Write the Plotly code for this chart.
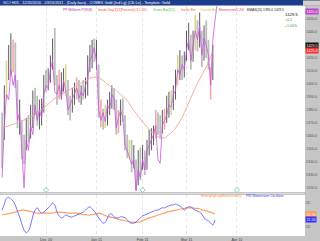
import plotly.graph_objects as go

# ---------------- data ----------------
month_idx = [20, 43, 64, 84, 107]
month_labels = ["Dec 10", "Jan 11", "Feb 11", "Mar 11", "Apr 11"]

bar_high = [1378, 1399, 1418, 1430, 1439, 1434, 1432, 1403, 1388, 1372,
            1361, 1374, 1376, 1384, 1395, 1397, 1391, 1388, 1389, 1407,
            1411, 1412, 1422, 1435, 1443, 1407, 1411, 1409, 1412, 1415,
            1403, 1391, 1397, 1401, 1405, 1403, 1399, 1403, 1405, 1422,
            1430, 1434, 1435, 1434, 1415, 1388, 1381, 1384, 1388, 1394,
            1399, 1397, 1388, 1380, 1388, 1389, 1376, 1361, 1357, 1357,
            1353, 1342, 1349, 1351, 1353, 1349, 1357, 1365, 1366, 1368,
            1380, 1378, 1376, 1380, 1381, 1391, 1394, 1395, 1399, 1411,
            1422, 1426, 1422, 1425, 1441, 1447, 1438, 1441, 1453, 1449,
            1455, 1441, 1445, 1449, 1434, 1413, 1430]
bar_low = [1335, 1357, 1388, 1403, 1407, 1409, 1397, 1366, 1361, 1342,
           1338, 1349, 1355, 1358, 1366, 1376, 1368, 1365, 1368, 1378,
           1394, 1395, 1401, 1411, 1399, 1384, 1388, 1388, 1394, 1391,
           1376, 1372, 1378, 1384, 1388, 1386, 1384, 1388, 1389, 1391,
           1409, 1412, 1417, 1411, 1374, 1367, 1365, 1366, 1368, 1376,
           1381, 1380, 1361, 1362, 1368, 1371, 1349, 1343, 1342, 1332,
           1335, 1318, 1322, 1326, 1334, 1330, 1334, 1345, 1349, 1353,
           1358, 1361, 1358, 1362, 1365, 1370, 1374, 1376, 1380, 1388,
           1399, 1403, 1403, 1405, 1418, 1426, 1411, 1417, 1426, 1425,
           1428, 1413, 1418, 1420, 1411, 1388, 1403]
bar_signal = ["D", "U", "O", "U", "U", "I", "D", "D", "U", "D",
              "D", "U", "D", "U", "U", "D", "D", "U", "U", "U",
              "D", "U", "U", "U", "D", "D", "I", "U", "U", "O",
              "D", "D", "U", "U", "I", "D", "U", "D", "U", "U",
              "U", "U", "D", "U", "D", "I", "D", "O", "U", "U",
              "U", "D", "D", "I", "U", "D", "D", "D", "O", "D",
              "U", "D", "U", "D", "U", "D", "U", "U", "U", "U",
              "I", "D", "D", "U", "I", "U", "U", "O", "U", "U",
              "O", "U", "D", "U", "U", "U", "D", "U", "O", "D",
              "U", "D", "U", "D", "D", "I", "U"]
pp_line = [1328, 1368, 1392, 1388, 1411, 1399, 1407, 1372, 1378, 1349,
           1320, 1357, 1349, 1368, 1361, 1384, 1372, 1380, 1374, 1392,
           1399, 1397, 1411, 1418, 1394, 1392, 1399, 1389, 1403, 1395,
           1380, 1384, 1388, 1392, 1397, 1389, 1394, 1391, 1399, 1403,
           1418, 1422, 1428, 1417, 1380, 1372, 1378, 1371, 1384, 1380,
           1392, 1388, 1366, 1374, 1380, 1374, 1353, 1349, 1343, 1338,
           1342, 1318, 1334, 1328, 1342, 1334, 1349, 1353, 1357, 1361,
           1368, 1342, 1339, 1368, 1372, 1376, 1384, 1382, 1392, 1395,
           1411, 1407, 1415, 1411, 1426, 1434, 1418, 1430, 1441, 1434,
           1445, 1422, 1435, 1430, 1422, 1399, 1434, 1449, 1462]
ema20 = [1366, 1366.5, 1367, 1367.5, 1368, 1369, 1369.5, 1370.5, 1371, 1372,
         1372.5, 1373, 1373.5, 1374.5, 1376, 1377, 1378, 1379, 1380, 1381.5,
         1383, 1384.5, 1386, 1388, 1389, 1390, 1391, 1392, 1393, 1394,
         1395, 1396, 1397, 1398, 1399, 1400, 1401, 1402, 1403, 1404,
         1404.5, 1405, 1405.5, 1405.5, 1405, 1404, 1403, 1401.5, 1400, 1398.5,
         1397, 1396, 1395, 1393.5, 1392.5, 1391, 1389, 1387, 1385, 1382,
         1380, 1377.5, 1375, 1373, 1371, 1369, 1367, 1365, 1363, 1362,
         1360.5, 1359.5, 1358.5, 1358.5, 1358.5, 1359.5, 1361, 1362, 1364, 1366,
         1368.5, 1371, 1374, 1378, 1382, 1386, 1390, 1394, 1397, 1400.5,
         1404, 1407, 1410, 1413, 1417, 1421, 1425]
osc_blue = [23.5, 24.8, 26.0, 26.2, 25.8, 25.4, 24.6, 23.3, 22.1, 20.6,
            19.4, 18.8, 19.2, 20.4, 22.3, 23.5, 24.0, 23.3, 22.9, 23.1,
            23.5, 24.0, 24.4, 25.0, 24.6, 23.1, 22.3, 21.9, 22.1, 22.5,
            22.3, 22.1, 22.1, 22.3, 22.5, 22.7, 22.9, 23.1, 23.5, 24.0,
            24.2, 23.8, 23.3, 22.7, 21.9, 21.3, 20.8, 21.0, 21.9, 22.7,
            22.7, 22.1, 21.9, 21.9, 22.1, 22.1, 21.9, 21.5, 21.0, 20.8,
            20.8, 21.0, 21.5, 21.9, 22.3, 22.5, 22.7, 22.9, 23.1, 23.3,
            23.5, 23.5, 23.8, 24.0, 24.0, 24.2, 24.4, 24.6, 24.6, 24.8,
            24.6, 24.4, 24.0, 23.5, 24.0, 24.2, 24.2, 23.8, 23.5, 23.3,
            23.1, 22.7, 21.9, 21.5, 21.3, 20.8, 20.4, 21.5]
osc_orange = [22.5, 22.6, 22.7, 22.8, 22.9, 23.0, 23.1, 23.3, 23.4, 23.5,
              23.5, 23.4, 23.3, 23.2, 23.1, 23.0, 22.9, 22.9, 22.9, 22.9,
              22.9, 22.9, 22.9, 22.9, 23.0, 23.1, 23.1, 23.1, 23.0, 23.0,
              22.9, 22.9, 22.9, 22.9, 22.9, 22.8, 22.7, 22.6, 22.6, 22.5,
              22.5, 22.6, 22.7, 22.8, 22.9, 22.8, 22.6, 22.4, 22.2, 22.1,
              22.0, 21.9, 21.8, 21.6, 21.5, 21.4, 21.3, 21.2, 21.1, 21.0,
              21.0, 21.0, 21.0, 21.1, 21.3, 21.5, 21.7, 21.9, 22.0, 22.2,
              22.3, 22.5, 22.6, 22.8, 22.9, 23.1, 23.2, 23.3, 23.4, 23.5,
              23.6, 23.7, 23.8, 23.9, 24.0, 24.0, 24.0, 24.0, 23.9, 23.9,
              23.8, 23.6, 23.5, 23.4, 23.2, 23.1, 22.9, 22.7]
marker_idx = [20, 64, 107]
marker_price = 1318.5
price_ticks = [1320, 1330, 1340, 1350, 1360, 1370, 1380, 1390, 1400,
               1410, 1420, 1430, 1440, 1450]
osc_ticks = [20, 25]
last_close = 1429.5
last_ema = 1425.4
last_pp = 1455.4

# ---------------- figure ----------------
W, H = 320, 241
ML, MR, MT, MB = 0, 15, 6, 5
PW, PH = W - ML - MR, H - MT - MB
FONT = "Liberation Sans"


def px_x(p):
    return p / PW


def px_y(p):
    return (H - MB - p) / PH


fig = go.Figure()

sig_style = {"D": ("#bdbdbd", 1.8), "U": ("#5a5a5a", 1.0),
             "I": ("#f5a8a8", 1.6), "O": ("#d8d894", 1.6)}
for sig, (col, wid) in sig_style.items():
    xs, ys = [], []
    for i, (h, l, s) in enumerate(zip(bar_high, bar_low, bar_signal)):
        if s == sig:
            xs += [i, i, None]
            ys += [l, h, None]
    fig.add_trace(go.Scatter(x=xs, y=ys, mode="lines",
                             line=dict(color=col, width=wid),
                             hoverinfo="skip", xaxis="x", yaxis="y"))

fig.add_trace(go.Scatter(x=list(range(len(ema20))), y=ema20, mode="lines",
                         line=dict(color="#f4b0a0", width=1),
                         xaxis="x", yaxis="y"))
fig.add_trace(go.Scatter(x=list(range(len(pp_line))), y=pp_line, mode="lines",
                         line=dict(color="#cc55dd", width=0.8),
                         xaxis="x", yaxis="y"))
fig.add_trace(go.Scatter(x=marker_idx, y=[marker_price] * len(marker_idx),
                         mode="markers",
                         marker=dict(symbol="diamond-open", size=4,
                                     color="#86cccc", line=dict(width=1)),
                         xaxis="x", yaxis="y", cliponaxis=False))

fig.add_trace(go.Scatter(x=list(range(len(osc_orange))), y=osc_orange,
                         mode="lines", line=dict(color="#ffa060", width=1.2,
                                                 shape="spline"),
                         xaxis="x2", yaxis="y2"))
fig.add_trace(go.Scatter(x=list(range(len(osc_blue))), y=osc_blue,
                         mode="lines", line=dict(color="#6464ff", width=0.9,
                                                 shape="spline"),
                         xaxis="x2", yaxis="y2"))

x_left = -0.96
x_right = x_left + PW / 2.195

split_main = (H - MB - 192) / PH
split_low = (H - MB - 195) / PH

axis_common = dict(range=[x_left, x_right], tickmode="array",
                   tickvals=month_idx, showgrid=True, gridcolor="#e6e6e6",
                   griddash="dot", gridwidth=0.8, zeroline=False,
                   showline=False, ticks="", fixedrange=True)

fig.update_layout(
    width=W, height=H,
    margin=dict(l=ML, r=MR, t=MT, b=MB, pad=0),
    paper_bgcolor="white", plot_bgcolor="white",
    showlegend=False,
    font=dict(family=FONT, size=3.6, color="#333333"),
    xaxis=dict(**axis_common, showticklabels=False, anchor="y"),
    xaxis2=dict(**axis_common, ticktext=month_labels, showticklabels=True,
                anchor="y2", matches="x",
                tickfont=dict(size=3.8, color="#444444")),
    yaxis=dict(domain=[split_main, 1], range=[1316.9, 1460], side="right",
               tickmode="array", tickvals=price_ticks, tickformat=".1f",
               showgrid=False, zeroline=False, ticks="",
               tickfont=dict(size=3.6, color="#555555"), anchor="x"),
    yaxis2=dict(domain=[0, split_low], range=[18.125, 26.67], side="right",
                tickmode="array", tickvals=osc_ticks, showgrid=False,
                zeroline=False, ticks="",
                tickfont=dict(size=3.6, color="#555555"), anchor="x2"),
)

shapes = [
    dict(type="rect", xref="paper", yref="paper", x0=1, x1=W / PW,
         y0=px_y(H), y1=px_y(6), fillcolor="#c6c6c6", line_width=0,
         layer="below"),
    dict(type="rect", xref="paper", yref="paper", x0=0, x1=W / PW,
         y0=px_y(H), y1=px_y(236), fillcolor="#c6c6c6", line_width=0,
         layer="below"),
    dict(type="rect", xref="paper", yref="paper", x0=0, x1=1,
         y0=px_y(194.5), y1=px_y(192.5), fillcolor="#dcdcdc",
         line=dict(color="#ababab", width=0.6), layer="above"),
    dict(type="rect", xref="paper", yref="paper", x0=0, x1=W / PW,
         y0=px_y(5.5), y1=px_y(0), fillcolor="#1c3c8c", line_width=0,
         layer="above"),
    dict(type="rect", xref="paper", yref="paper", x0=px_x(303), x1=W / PW,
         y0=px_y(5.5), y1=px_y(0.5), fillcolor="#d4d0c8", line_width=0,
         layer="above"),
]
fig.update_layout(shapes=shapes)

ann = []


def txt(x, y, s, color, size=3.6, anchor="left", bg=None):
    ann.append(dict(x=px_x(x), y=px_y(y), xref="paper", yref="paper",
                    text=s, showarrow=False, xanchor=anchor,
                    yanchor="middle",
                    font=dict(family=FONT, size=size, color=color),
                    bgcolor=bg, borderpad=0))


txt(2, 2.8, "GC# H05 - 12/20/2010 - 03/16/2011 - (Daily bars) - COMEX Gold "
    "(Ind Lg) (Clk Ln) - Template: Gold", "#ffffff", 3.8)

legend_items = [
    (62, "PP Milliform P(W,M)", "#c030c0"),
    (97, "Inside Day(1)(1)", "#ff4a4a"),
    (120, "Percent(0.3,1.00)", "#ff4a4a"),
    (152, "Green Bar(3,1)", "#40c040"),
    (180, "Inside Bar", "#ff6a4a"),
    (199, "Outside Bar", "#c8c850"),
    (218, "Momentum(5,20)", "#e04070"),
    (246, "EMAS(20) 1390.0 1429.5", "#222222"),
]
for x, s, c in legend_items:
    txt(x, 9.5, s, c, 3.3)

txt(284, 14.5, f"{last_close:.1f}", "#111111", 4.2)
txt(284, 20.5, "+0.2", "#3aa03a", 3.6)
txt(284, 26, "+1.00%", "#3aa03a", 3.6)

txt(200, 195.8, "EmergingDogMomentum(5)", "#ff8a30", 3.3)
txt(245, 195.8, "PRI Momentum Oscillator", "#3a3aff", 3.3)

for val, col in [(last_close, "#111111"), (last_ema, "#ff3030"),
                 (last_pp, "#c040d0")]:
    ann.append(dict(x=1, y=val, xref="paper", yref="y", text=f"{val:.1f}",
                    showarrow=False, xanchor="left", yanchor="middle",
                    font=dict(family=FONT, size=3.6, color="#ffffff"),
                    bgcolor=col, borderpad=0.5))
for val, col in [(osc_orange[-1], "#ff9a50"), (osc_blue[-1], "#3030ff")]:
    ann.append(dict(x=1, y=val, xref="paper", yref="y2", text=f"{val:.2f}",
                    showarrow=False, xanchor="left", yanchor="middle",
                    font=dict(family=FONT, size=3.6, color="#ffffff"),
                    bgcolor=col, borderpad=0.5))

fig.update_layout(annotations=ann)

fig.write_html("out.html")
